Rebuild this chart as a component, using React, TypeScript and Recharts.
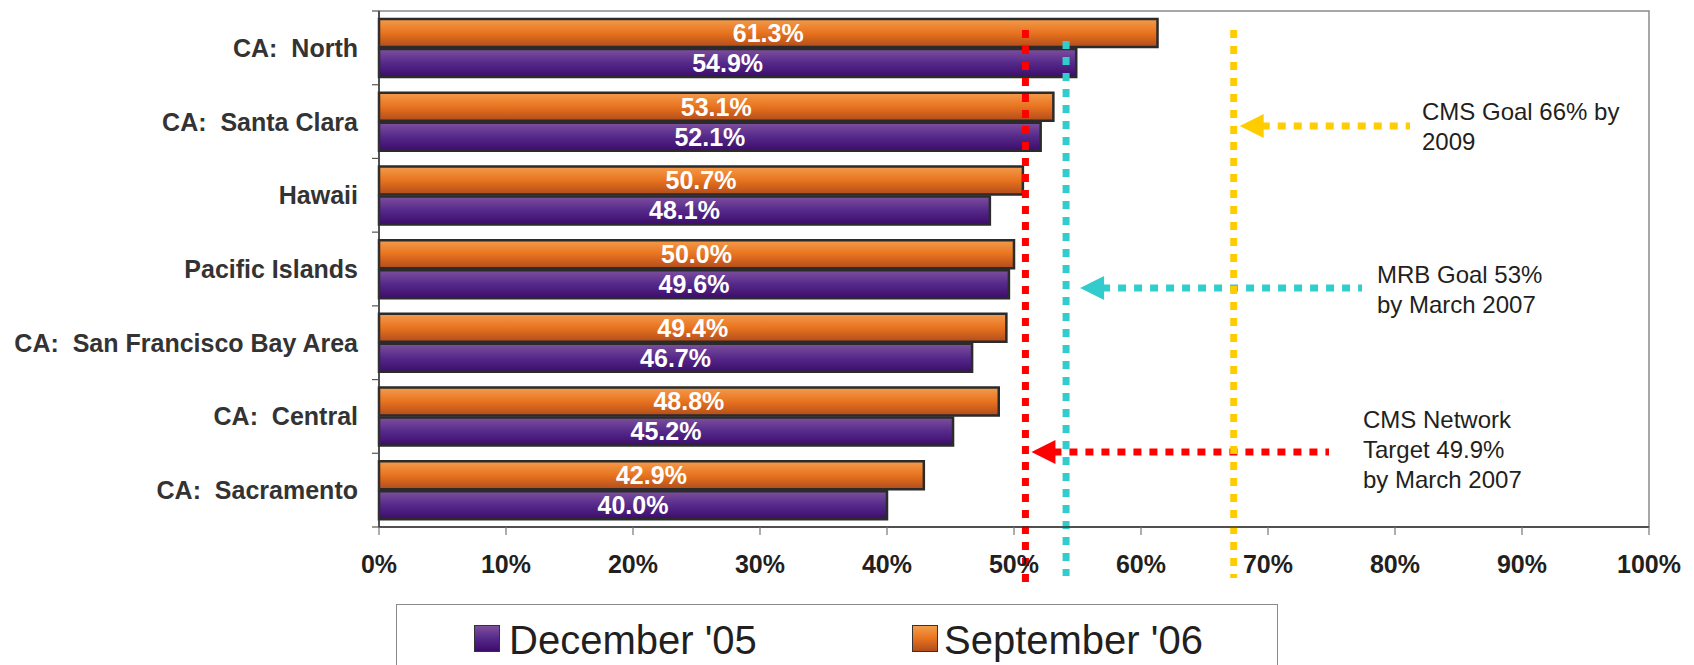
import React from "react";
import {
  BarChart,
  Bar,
  XAxis,
  YAxis,
  LabelList,
  ReferenceLine,
  ReferenceArea,
} from "recharts";

const regions = [
  "CA:  North",
  "CA:  Santa Clara",
  "Hawaii",
  "Pacific Islands",
  "CA:  San Francisco Bay Area",
  "CA:  Central",
  "CA:  Sacramento",
];
const dec05 = [54.9, 52.1, 48.1, 49.6, 46.7, 45.2, 40.0];
const sep06 = [61.3, 53.1, 50.7, 50.0, 49.4, 48.8, 42.9];
const xTicks = [0, 10, 20, 30, 40, 50, 60, 70, 80, 90, 100];

// goal lines as drawn in the picture
const goalValues = [50.9, 54.1, 67.3];
const goalColors = ["#FF0000", "#33CCCC", "#FFCC00"];
const goalText = [
  ["CMS Network", "Target 49.9%", "by March 2007"],
  ["MRB Goal 53%", "by March 2007"],
  ["CMS Goal 66% by", "2009"],
];

const FONT = "'Liberation Sans', Arial, Helvetica, sans-serif";
const W = 1694;
const H = 600;
const M = { top: 11, right: 45, bottom: 33, left: 0 };
const Y_W = 379;
const X_H = 40;
const PLOT_H = H - M.top - M.bottom - X_H;

// annotation layout, relative to the plot top / bottom
const goalLayout = [
  { top: 19, bottom: 56, arrowY: 441, tip: 6, tail: 1329, textX: 1363, textY: 417 },
  { top: 30, bottom: 49, arrowY: 277, tip: 14, tail: 1362, textX: 1377, textY: 272 },
  { top: 19, bottom: 51, arrowY: 115, tip: 6, tail: 1410, textX: 1422, textY: 109 },
];

const data = regions.map((r, i) => ({ region: r, dec05: dec05[i], sep06: sep06[i] }));

const RegionTick = (props: any) => {
  const { x, y, payload, index, visibleTicksCount } = props;
  const band = PLOT_H / regions.length;
  return (
    <g>
      <line x1={x - 7} x2={x} y1={y - band / 2} y2={y - band / 2} stroke="#555" strokeWidth={1.2} />
      {index === visibleTicksCount - 1 && (
        <line x1={x - 7} x2={x} y1={y + band / 2} y2={y + band / 2} stroke="#555" strokeWidth={1.2} />
      )}
      <text
        x={x - 21}
        y={y}
        dy="0.36em"
        textAnchor="end"
        fill="#333"
        fontSize={25}
        fontWeight="bold"
        fontFamily={FONT}
        style={{ whiteSpace: "pre" }}
        xmlSpace="preserve"
      >
        {payload.value}
      </text>
    </g>
  );
};

const PctTick = (props: any) => {
  const { x, y, payload } = props;
  return (
    <text x={x} y={y + 38} textAnchor="middle" fill="#231F20" fontSize={25} fontWeight="bold" fontFamily={FONT}>
      {payload.value}%
    </text>
  );
};

const GoalMarker = (props: any) => {
  const { x1, y1, y2, idx } = props;
  const top = Math.min(y1, y2);
  const bottom = Math.max(y1, y2);
  const L = goalLayout[idx];
  const color = goalColors[idx];
  const ay = top + L.arrowY;
  const tipX = x1 + L.tip;
  return (
    <g>
      <line x1={x1} x2={x1} y1={top + L.top} y2={bottom + L.bottom} stroke={color} strokeWidth={7} strokeDasharray="8 8" />
      <line x1={tipX + 22} x2={L.tail} y1={ay} y2={ay} stroke={color} strokeWidth={7} strokeDasharray="8 8" />
      <polygon points={`${tipX},${ay} ${tipX + 24},${ay - 12} ${tipX + 24},${ay + 12}`} fill={color} />
      <text x={L.textX} y={top + L.textY} fill="#231F20" fontSize={24} fontFamily={FONT}>
        {goalText[idx].map((t, k) => (
          <tspan key={k} x={L.textX} dy={k === 0 ? 0 : 30}>
            {t}
          </tspan>
        ))}
      </text>
    </g>
  );
};

const fmt = (v: any) => `${Number(v).toFixed(1)}%`;

export default function App() {
  return (
    <div style={{ position: "absolute", left: 0, top: 0, width: W, height: 665, overflow: "hidden", background: "#fff" }}>
      <BarChart
        width={W}
        height={H}
        data={data}
        layout="vertical"
        margin={M}
        barCategoryGap={8}
        barGap={2}
      >
        <defs>
          <linearGradient id="gOrange" x1="0" y1="0" x2="0" y2="1">
            <stop offset="0%" stopColor="#F39C4C" />
            <stop offset="50%" stopColor="#E8731F" />
            <stop offset="100%" stopColor="#B24C1C" />
          </linearGradient>
          <linearGradient id="gPurple" x1="0" y1="0" x2="0" y2="1">
            <stop offset="0%" stopColor="#7E509E" />
            <stop offset="50%" stopColor="#55298A" />
            <stop offset="100%" stopColor="#3C0C6A" />
          </linearGradient>
        </defs>
        <ReferenceArea x1={0} x2={100} fill="none" stroke="#8a8a8a" strokeWidth={1.5} ifOverflow="visible" />
        <XAxis
          type="number"
          domain={[0, 100]}
          ticks={xTicks}
          interval={0}
          height={X_H}
          tickSize={8}
          tickMargin={0}
          axisLine={{ stroke: "#333", strokeWidth: 1.5 }}
          tickLine={{ stroke: "#777", strokeWidth: 1.2 }}
          tick={<PctTick />}
        />
        <YAxis
          type="category"
          dataKey="region"
          width={Y_W}
          tickSize={0}
          tickMargin={0}
          interval={0}
          tickLine={false}
          axisLine={{ stroke: "#333", strokeWidth: 1.5 }}
          tick={<RegionTick />}
        />
        <Bar dataKey="sep06" name="September '06" fill="url(#gOrange)" stroke="#2b2b2b" strokeWidth={2.5} isAnimationActive={false}>
          <LabelList dataKey="sep06" position="center" formatter={fmt} fill="#fff" fontSize={25} fontWeight="bold" fontFamily={FONT} />
        </Bar>
        <Bar dataKey="dec05" name="December '05" fill="url(#gPurple)" stroke="#2b2b2b" strokeWidth={2.5} isAnimationActive={false}>
          <LabelList dataKey="dec05" position="center" formatter={fmt} fill="#fff" fontSize={25} fontWeight="bold" fontFamily={FONT} />
        </Bar>
        {goalValues.map((v, i) => (
          <ReferenceLine key={i} x={v} ifOverflow="visible" shape={(p: any) => <GoalMarker {...p} idx={i} />} />
        ))}
      </BarChart>
      <div
        style={{
          position: "absolute",
          left: 396,
          top: 604,
          width: 882,
          height: 90,
          border: "1.5px solid #8a8a8a",
          boxSizing: "border-box",
          fontFamily: FONT,
          fontSize: 40,
          color: "#231F20",
        }}
      >
        <div style={{ position: "absolute", left: 77, top: 20, width: 26, height: 27, background: "linear-gradient(#7E509E, #55298A 50%, #3C0C6A)", border: "1.5px solid #333", boxSizing: "border-box" }} />
        <div style={{ position: "absolute", left: 112, top: 12, lineHeight: "46px", whiteSpace: "pre" }}>December '05</div>
        <div style={{ position: "absolute", left: 515, top: 20, width: 26, height: 27, background: "linear-gradient(#F39C4C, #E8731F 50%, #B24C1C)", border: "1.5px solid #333", boxSizing: "border-box" }} />
        <div style={{ position: "absolute", left: 547, top: 12, lineHeight: "46px", whiteSpace: "pre" }}>September '06</div>
      </div>
    </div>
  );
}
